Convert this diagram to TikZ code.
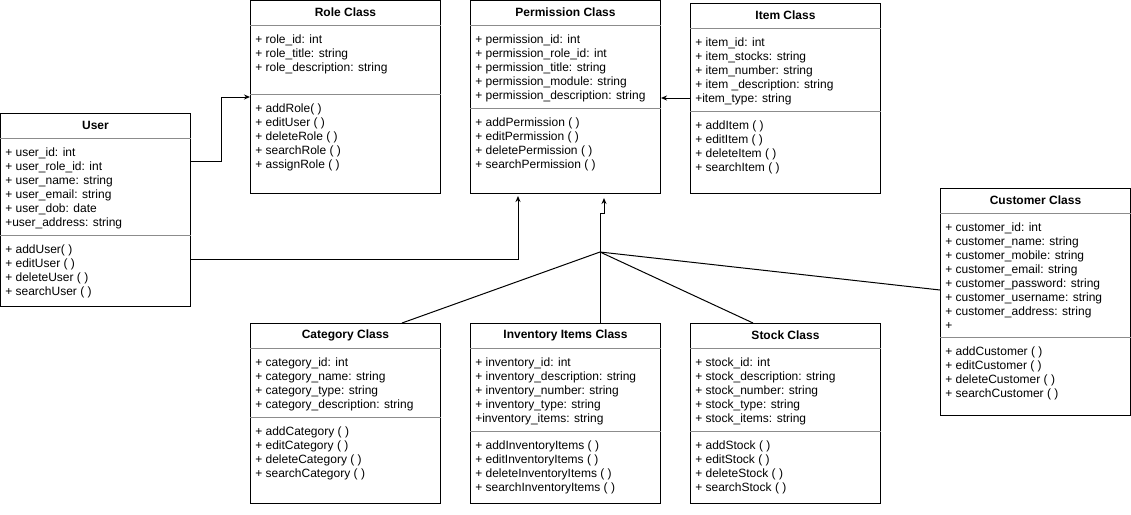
\documentclass[tikz,border=0pt]{standalone}
\usepackage{fontspec}
\setmainfont{Liberation Sans}
\usetikzlibrary{arrows,arrows.meta,positioning,calc}
\newcommand{\memberlist}[1]{\begin{tabular}[t]{@{}l@{}}#1\end{tabular}}

\begin{document}
\begin{tikzpicture}[x=1pt, y=-1pt, ->, >={Stealth[length=6pt,width=5pt]}, semithick, font=\fontsize{12}{14}\selectfont]
\tikzstyle{class}=[-, draw=black, line width=1pt, fill=white, anchor=north west, minimum width=190pt, inner sep=0pt]
\tikzstyle{sep}=[-, draw=black!45, line width=1pt]
\tikzstyle{title}=[font=\fontsize{12}{14}\selectfont\bfseries]
\tikzstyle{members}=[anchor=base west, inner sep=0pt]
\tikzstyle{link}=[line width=1pt]
\useasboundingbox (0,0) rectangle (1131,514);

% class boxes
\node[class, minimum height=193pt] (user)  at (0,113)   {};
\node[class, minimum height=193pt] (role)  at (250,0)   {};
\node[class, minimum height=193pt] (perm)  at (470,0)   {};
\node[class, minimum height=190pt] (item)  at (690,3)   {};
\node[class, minimum height=227pt] (cust)  at (940,188) {};
\node[class, minimum height=180pt] (cat)   at (250,323) {};
\node[class, minimum height=180pt] (inv)   at (470,323) {};
\node[class, minimum height=180pt] (stock) at (690,323) {};

% User
\node[title] at ([yshift=-12.5pt]user.north) {User};
\draw[sep] ([yshift=-25pt]user.north west) -- ([yshift=-25pt]user.north east);
\draw[sep] ([yshift=-122pt]user.north west) -- ([yshift=-122pt]user.north east);
\node[members] at ([shift={(5pt,-43pt)}]user.north west)
  {\memberlist{+ user\_id: int\\+ user\_role\_id: int\\+ user\_name: string\\+ user\_email: string\\+ user\_dob: date\\+user\_address: string}};
\node[members] at ([shift={(5pt,-140pt)}]user.north west)
  {\memberlist{+ addUser( )\\+ editUser ( )\\+ deleteUser ( )\\+ searchUser ( )}};

% Role
\node[title] at ([yshift=-12.5pt]role.north) {Role Class};
\draw[sep] ([yshift=-25pt]role.north west) -- ([yshift=-25pt]role.north east);
\draw[sep] ([yshift=-94pt]role.north west) -- ([yshift=-94pt]role.north east);
\node[members] at ([shift={(5pt,-43pt)}]role.north west)
  {\memberlist{+ role\_id: int\\+ role\_title: string\\+ role\_description: string}};
\node[members] at ([shift={(5pt,-112pt)}]role.north west)
  {\memberlist{+ addRole( )\\+ editUser ( )\\+ deleteRole ( )\\+ searchRole ( )\\+ assignRole ( )}};

% Permission
\node[title] at ([yshift=-12.5pt]perm.north) {Permission Class};
\draw[sep] ([yshift=-25pt]perm.north west) -- ([yshift=-25pt]perm.north east);
\draw[sep] ([yshift=-108pt]perm.north west) -- ([yshift=-108pt]perm.north east);
\node[members] at ([shift={(5pt,-43pt)}]perm.north west)
  {\memberlist{+ permission\_id: int\\+ permission\_role\_id: int\\+ permission\_title: string\\+ permission\_module: string\\+ permission\_description: string}};
\node[members] at ([shift={(5pt,-126pt)}]perm.north west)
  {\memberlist{+ addPermission ( )\\+ editPermission ( )\\+ deletePermission ( )\\+ searchPermission ( )}};

% Item
\node[title] at ([yshift=-12.5pt]item.north) {Item Class};
\draw[sep] ([yshift=-25pt]item.north west) -- ([yshift=-25pt]item.north east);
\draw[sep] ([yshift=-108pt]item.north west) -- ([yshift=-108pt]item.north east);
\node[members] at ([shift={(5pt,-43pt)}]item.north west)
  {\memberlist{+ item\_id: int\\+ item\_stocks: string\\+ item\_number: string\\+ item \_description: string\\+item\_type: string}};
\node[members] at ([shift={(5pt,-126pt)}]item.north west)
  {\memberlist{+ addItem ( )\\+ editItem ( )\\+ deleteItem ( )\\+ searchItem ( )}};

% Customer
\node[title] at ([yshift=-12.5pt]cust.north) {Customer Class};
\draw[sep] ([yshift=-25pt]cust.north west) -- ([yshift=-25pt]cust.north east);
\draw[sep] ([yshift=-149pt]cust.north west) -- ([yshift=-149pt]cust.north east);
\node[members] at ([shift={(5pt,-43pt)}]cust.north west)
  {\memberlist{+ customer\_id: int\\+ customer\_name: string\\+ customer\_mobile: string\\+ customer\_email: string\\+ customer\_password: string\\+ customer\_username: string\\+ customer\_address: string\\+}};
\node[members] at ([shift={(5pt,-167pt)}]cust.north west)
  {\memberlist{+ addCustomer ( )\\+ editCustomer ( )\\+ deleteCustomer ( )\\+ searchCustomer ( )}};

% Category
\node[title] at ([yshift=-12.5pt]cat.north) {Category Class};
\draw[sep] ([yshift=-25pt]cat.north west) -- ([yshift=-25pt]cat.north east);
\draw[sep] ([yshift=-94pt]cat.north west) -- ([yshift=-94pt]cat.north east);
\node[members] at ([shift={(5pt,-43pt)}]cat.north west)
  {\memberlist{+ category\_id: int\\+ category\_name: string\\+ category\_type: string\\+ category\_description: string}};
\node[members] at ([shift={(5pt,-112pt)}]cat.north west)
  {\memberlist{+ addCategory ( )\\+ editCategory ( )\\+ deleteCategory ( )\\+ searchCategory ( )}};

% Inventory Items
\node[title] at ([yshift=-12.5pt]inv.north) {Inventory Items Class};
\draw[sep] ([yshift=-25pt]inv.north west) -- ([yshift=-25pt]inv.north east);
\draw[sep] ([yshift=-108pt]inv.north west) -- ([yshift=-108pt]inv.north east);
\node[members] at ([shift={(5pt,-43pt)}]inv.north west)
  {\memberlist{+ inventory\_id: int\\+ inventory\_description: string\\+ inventory\_number: string\\+ inventory\_type: string\\+inventory\_items: string}};
\node[members] at ([shift={(5pt,-126pt)}]inv.north west)
  {\memberlist{+ addInventoryItems ( )\\+ editInventoryItems ( )\\+ deleteInventoryItems ( )\\+ searchInventoryItems ( )}};

% Stock
\node[title] at ([yshift=-12.5pt]stock.north) {Stock Class};
\draw[sep] ([yshift=-25pt]stock.north west) -- ([yshift=-25pt]stock.north east);
\draw[sep] ([yshift=-108pt]stock.north west) -- ([yshift=-108pt]stock.north east);
\node[members] at ([shift={(5pt,-43pt)}]stock.north west)
  {\memberlist{+ stock\_id: int\\+ stock\_description: string\\+ stock\_number: string\\+ stock\_type: string\\+ stock\_items: string}};
\node[members] at ([shift={(5pt,-126pt)}]stock.north west)
  {\memberlist{+ addStock ( )\\+ editStock ( )\\+ deleteStock ( )\\+ searchStock ( )}};

% connectors
\coordinate (hub) at (600,252);
\draw[link] ([yshift=-48pt]user.north east) -- ++(30,0) |- ([yshift=-97pt]role.north west);
\draw[link] ([yshift=-146pt]user.north east) -| ([shift={(48pt,-2pt)}]perm.south west);
\draw[link] (hub) -- ++(0,-39) -| ([shift={(134pt,-4pt)}]perm.south west);
\draw[link] ([yshift=-95pt]item.north west) -- ([yshift=-98pt]perm.north east);
\draw[link,-] (hub) -- ([xshift=152pt]cat.north west);
\draw[link,-] (hub) -- ([xshift=130pt]inv.north west);
\draw[link,-] (hub) -- ([xshift=63pt]stock.north west);
\draw[link,-] (hub) -- ([yshift=-102pt]cust.north west);
\end{tikzpicture}
\end{document}
